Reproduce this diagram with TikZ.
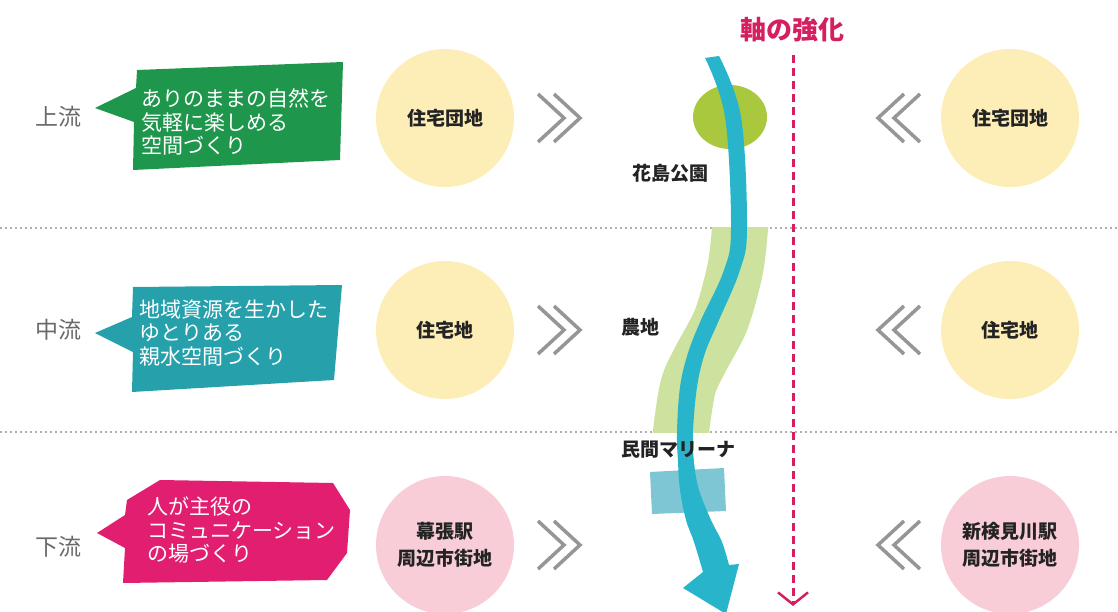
\documentclass[tikz,border=0pt]{standalone}
\usepackage{fontspec}
\newfontfamily\jpfont{Noto Sans CJK JP}
\usetikzlibrary{arrows.meta}
\definecolor{upgreen}{RGB}{30,150,75}
\definecolor{midteal}{RGB}{38,160,170}
\definecolor{lowpink}{RGB}{226,30,112}
\definecolor{houseyellow}{RGB}{253,238,184}
\definecolor{townpink}{RGB}{248,205,216}
\definecolor{rivercol}{RGB}{40,180,202}
\definecolor{parkgreen}{RGB}{170,200,62}
\definecolor{farmgreen}{RGB}{204,226,158}
\definecolor{marinacol}{RGB}{126,198,212}
\definecolor{axispink}{RGB}{212,32,96}
\definecolor{reachgray}{RGB}{105,105,105}
\definecolor{inkgray}{RGB}{35,35,35}
\definecolor{chevgray}{RGB}{150,150,150}
\definecolor{sepgray}{RGB}{175,175,175}
\begin{document}
\begin{tikzpicture}[x=1pt,y=-1pt,
  reach/.style={font=\jpfont\fontsize{23}{26}\selectfont, text=reachgray},
  calltext/.style={font=\jpfont\fontsize{21}{23.5}\selectfont, text=white, align=left, anchor=west, inner sep=0pt},
  town/.style={circle, minimum size=138pt, font=\jpfont\bfseries\fontsize{19}{27}\selectfont, text=inkgray, align=center},
  place/.style={font=\jpfont\bfseries\fontsize{19}{22}\selectfont, text=inkgray},
  chev/.style={draw=chevgray, line width=3.5pt},
  sep/.style={draw=sepgray, line width=1.5pt, dash pattern=on 2pt off 3pt}]
\useasboundingbox (0,0) rectangle (1118,612);
% separators:
\draw[sep] (0,228) -- (1118,228);
\draw[sep] (0,432) -- (1118,432);
% callouts:
\fill[upgreen] (137,70) -- (343,62) -- (340,160) -- (133,170) -- (134,122) -- (95,108) -- (136,88) -- cycle;
\fill[midteal] (133,287) -- (342,285) -- (334,380) -- (132,392) -- (133,352) -- (95,333) -- (132,317) -- cycle;
\fill[lowpink] (127,500) -- (160,480) -- (333,483) -- (350,510) -- (347,553) -- (327,580) -- (123,583) -- (125,548) -- (97,533) -- (125,515) -- cycle;
\node[reach] (up) at (58,117) {上流};
\node[reach] (mid) at (58,330) {中流};
\node[reach] (low) at (58,547) {下流};
\node[calltext] (upText) at (141,122) {ありのままの自然を\\気軽に楽しめる\\空間づくり};
\node[calltext] (midText) at (139,333) {地域資源を生かした\\ゆとりある\\親水空間づくり};
\node[calltext] (lowText) at (147,530) {人が主役の\\コミュニケーション\\の場づくり};
% towns:
\node[town, fill=houseyellow] (upWest) at (445,118) {住宅団地};
\node[town, fill=houseyellow] (midWest) at (445,330) {住宅地};
\node[town, fill=townpink] (lowWest) at (445,545) {幕張駅\\周辺市街地};
\node[town, fill=houseyellow] (upEast) at (1010,118) {住宅団地};
\node[town, fill=houseyellow] (midEast) at (1010,330) {住宅地};
\node[town, fill=townpink] (lowEast) at (1010,545) {新検見川駅\\周辺市街地};
% chevrons:
\foreach \y in {118,330,545} {
  \draw[chev] (538,\y-24) -- (564,\y) -- (538,\y+24);
  \draw[chev] (554,\y-24) -- (580,\y) -- (554,\y+24);
  \draw[chev] (904,\y-24) -- (878,\y) -- (904,\y+24);
  \draw[chev] (920,\y-24) -- (894,\y) -- (920,\y+24);
}
% farmland and park:
\begin{scope}
\clip (600,228) rectangle (800,432);
\draw[farmgreen, line width=56pt] plot[smooth] coordinates {(741,200) (740,228) (735,270) (721,320) (700,360) (688,387) (681,432) (680,460)};
\end{scope}
\fill[parkgreen] (730,117) ellipse [x radius=37, y radius=32];
\fill[marinacol] (650,472) -- (724,468) -- (726,511) -- (652,514) -- cycle;
% river:
\fill[rivercol] plot[smooth, tension=0.6] coordinates {(705,58) (725,117) (731,228) (724,270) (701,320) (688,353) (680,387) (677,432) (678,462) (680,490) (686,520) (694,542) (703,572)}
  -- (683,588) -- (726,614) -- (739,564)
  -- plot[smooth, tension=0.6] coordinates {(729,565) (722,542) (711,520) (699,490) (694,462) (693,432) (697,387) (705,353) (719,320) (740,270) (747,228) (741,117) (719,56)} -- cycle;
\node[place] (park) at (670,173) {花島公園};
\node[place] (farm) at (640,327) {農地};
\node[place] (marina) at (678,450) {民間マリーナ};
% axis:
\draw[axispink, line width=3pt, dash pattern=on 8pt off 5pt, -{Straight Barb[length=12pt, width=30pt, line width=2.5pt]}] (793,55) -- (793,606);
\node[font=\jpfont\bfseries\fontsize{26}{28}\selectfont, text=axispink] (axisTitle) at (792,30) {軸の強化};
\end{tikzpicture}
\end{document}
